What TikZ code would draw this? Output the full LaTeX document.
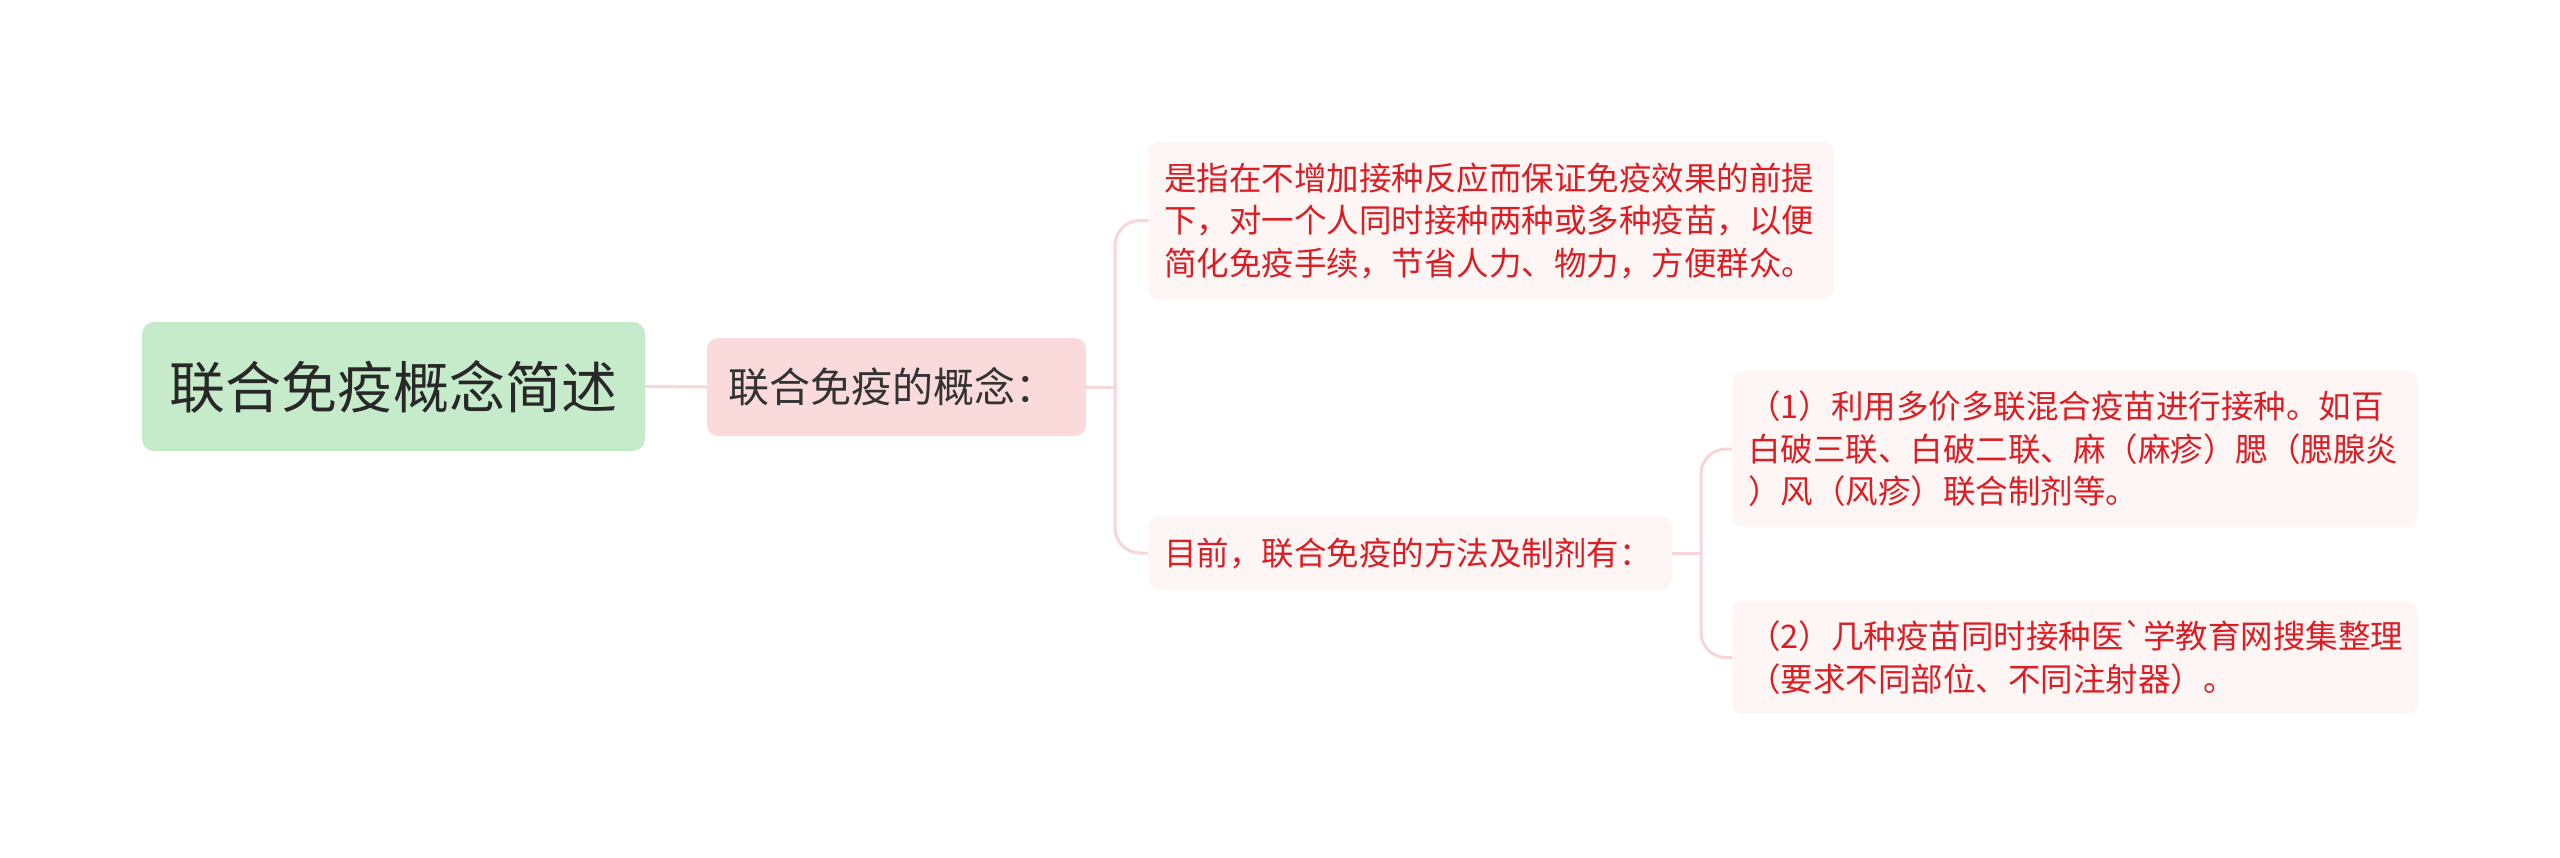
\documentclass[tikz,border=0pt]{standalone}
\usepackage{fontspec}
\newfontfamily\cjk{Noto Sans CJK SC}
\definecolor{rootfill}{RGB}{198,235,203}
\definecolor{roottext}{RGB}{40,40,40}
\definecolor{midfill}{RGB}{250,218,219}
\definecolor{midtext}{RGB}{51,51,51}
\definecolor{leaffill}{RGB}{254,245,245}
\definecolor{leaftext}{RGB}{218,30,36}
\definecolor{conncol}{RGB}{247,214,215}
\tikzset{
  rootbox/.style={fill=rootfill, rounded corners=12pt, inner sep=0pt, text=roottext,
    font=\cjk\fontsize{56}{62}\selectfont},
  midbox/.style={fill=midfill, rounded corners=11pt, inner xsep=21pt, inner ysep=0pt, text=midtext,
    align=left, font=\cjk\fontsize{41}{46}\selectfont},
  leafbox/.style={fill=leaffill, rounded corners=11pt, inner xsep=16pt, inner ysep=0pt, text=leaftext,
    align=left, font=\cjk\fontsize{32.5}{42.5}\selectfont},
  conn/.style={draw=conncol, line width=3pt}
}
\begin{document}
\begin{tikzpicture}[x=1pt,y=-1pt]
\path[use as bounding box] (0,0) rectangle (2560,857);
\node[rootbox, minimum width=503pt, minimum height=129pt] (root) at (393.5,386.5) {联合免疫概念简述};
\node[midbox, minimum width=379pt, minimum height=98pt, text width=337pt] (mid) at (896.5,387) {联合免疫的概念：};
\node[leafbox, minimum width=686pt, minimum height=157pt, text width=654pt] (def) at (1491,220.5)
  {是指在不增加接种反应而保证免疫效果的前提\\下，对一个人同时接种两种或多种疫苗，以便\\简化免疫手续，节省人力、物力，方便群众。};
\node[leafbox, minimum width=524pt, minimum height=73pt, text width=492pt] (meth) at (1410,553)
  {目前，联合免疫的方法及制剂有：};
\node[leafbox, minimum width=686pt, minimum height=156pt, text width=654pt] (m1) at (2075,449)
  {（1）利用多价多联混合疫苗进行接种。如百\\白破三联、白破二联、麻（麻疹）腮（腮腺炎\\）风（风疹）联合制剂等。};
\node[leafbox, minimum width=686pt, minimum height=113pt, text width=654pt] (m2) at (2075,657.5)
  {（2）几种疫苗同时接种医`学教育网搜集整理\\（要求不同部位、不同注射器）。};
\coordinate (b1) at (1115,387);
\coordinate (b2) at (1701,553);
\draw[conn] (root.east) -- (mid.west);
\draw[conn] (mid.east) -- (b1);
\draw[conn, rounded corners=25pt] (def.west) -| (b1) |- (meth.west);
\draw[conn] (meth.east) -- (b2);
\draw[conn, rounded corners=25pt] (m1.west) -| (b2) |- (m2.west);
\end{tikzpicture}
\end{document}
